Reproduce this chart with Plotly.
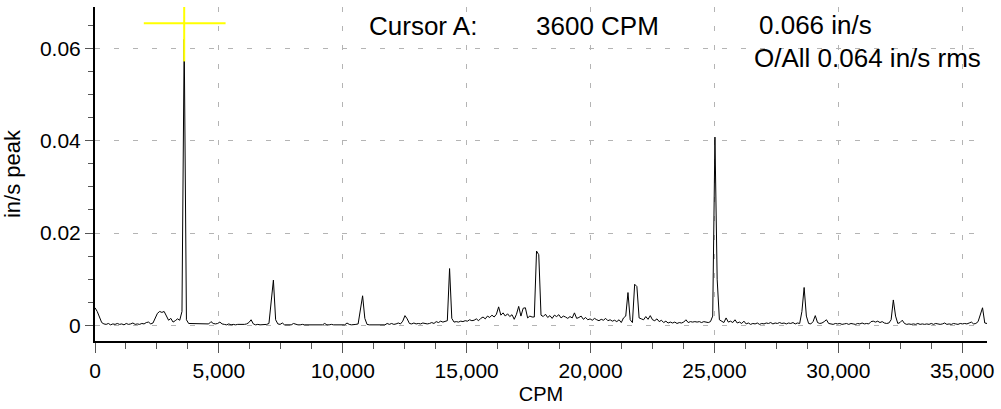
import plotly.graph_objects as go

# ---------------- data ----------------
cpm_start = 0
cpm_step = 90  # spectral line spacing (CPM)

# amplitude, in/s peak, one value per 90 CPM line (0 ... 36000 CPM)
amp_in_s = [
    0.0038, 0.0030, 0.0018, 0.0006, 0.0003, 0.0002, 0.0004, 0.0001, 0.0003, 0.0002,   # 0-810
    0.0004, 0.0002, 0.0003, 0.0001, 0.0004, 0.0002, 0.0003, 0.0005, 0.0002, 0.0003,   # 900-1710
    0.0002, 0.0004, 0.0003, 0.0006, 0.0007, 0.0003, 0.0005, 0.0016, 0.0026, 0.0030,   # 1800-2610
    0.0028, 0.0030, 0.0020, 0.0011, 0.0015, 0.0007, 0.0010, 0.0014, 0.0011, 0.0030,   # 2700-3510
    0.0620, 0.0012, 0.0004, 0.0004, 0.0003, 0.0004, 0.0003, 0.0004, 0.0004, 0.0003,   # 3600-4410
    0.0004, 0.0003, 0.0008, 0.0004, 0.0003, 0.0004, 0.0007, 0.0003, 0.0002, 0.0001,   # 4500-5310
    0.0003, 0.0001, 0.0002, 0.0001, 0.0002, 0.0002, 0.0001, 0.0002, 0.0003, 0.0006,   # 5400-6210
    0.0012, 0.0003, 0.0001, 0.0002, 0.0001, 0.0001, 0.0002, 0.0002, 0.0004, 0.0045,   # 6300-7110
    0.0098, 0.0012, 0.0003, 0.0002, 0.0005, 0.0001, 0.0001, 0.0002, 0.0001, 0.0004,   # 7200-8010
    0.0002, 0.0001, 0.0001, 0.0002, 0.0001, 0.0001, 0.0002, 0.0001, 0.0001, 0.0001,   # 8100-8910
    0.0001, 0.0002, 0.0001, 0.0004, 0.0001, 0.0001, 0.0002, 0.0001, 0.0001, 0.0001,   # 9000-9810
    0.0002, 0.0001, 0.0001, 0.0005, 0.0002, 0.0001, 0.0001, 0.0002, 0.0003, 0.0030,   # 9900-10710
    0.0064, 0.0015, 0.0002, 0.0001, 0.0001, 0.0002, 0.0001, 0.0001, 0.0001, 0.0002,   # 10800-11610
    0.0001, 0.0004, 0.0002, 0.0004, 0.0002, 0.0003, 0.0005, 0.0003, 0.0009, 0.0021,   # 11700-12510
    0.0014, 0.0004, 0.0003, 0.0005, 0.0003, 0.0004, 0.0003, 0.0005, 0.0004, 0.0003,   # 12600-13410
    0.0004, 0.0006, 0.0004, 0.0008, 0.0006, 0.0009, 0.0007, 0.0008, 0.0010, 0.0123,   # 13500-14310
    0.0015, 0.0007, 0.0008, 0.0007, 0.0009, 0.0008, 0.0010, 0.0009, 0.0012, 0.0010,   # 14400-15210
    0.0011, 0.0014, 0.0010, 0.0015, 0.0018, 0.0014, 0.0020, 0.0017, 0.0022, 0.0018,   # 15300-16110
    0.0024, 0.0040, 0.0022, 0.0027, 0.0020, 0.0025, 0.0019, 0.0023, 0.0013, 0.0024,   # 16200-17010
    0.0041, 0.0020, 0.0037, 0.0038, 0.0016, 0.0020, 0.0018, 0.0018, 0.0161, 0.0153,   # 17100-17910
    0.0022, 0.0019, 0.0024, 0.0017, 0.0021, 0.0015, 0.0022, 0.0019, 0.0023, 0.0016,   # 18000-18810
    0.0020, 0.0018, 0.0015, 0.0019, 0.0016, 0.0027, 0.0015, 0.0017, 0.0020, 0.0013,   # 18900-19710
    0.0017, 0.0012, 0.0014, 0.0011, 0.0015, 0.0012, 0.0010, 0.0013, 0.0011, 0.0015,   # 19800-20610
    0.0010, 0.0012, 0.0009, 0.0011, 0.0008, 0.0012, 0.0006, 0.0016, 0.0020, 0.0071,   # 20700-21510
    0.0012, 0.0006, 0.0089, 0.0084, 0.0016, 0.0014, 0.0012, 0.0019, 0.0013, 0.0021,   # 21600-22410
    0.0012, 0.0010, 0.0014, 0.0008, 0.0011, 0.0006, 0.0009, 0.0005, 0.0007, 0.0005,   # 22500-23310
    0.0007, 0.0004, 0.0006, 0.0005, 0.0007, 0.0012, 0.0006, 0.0008, 0.0007, 0.0008,   # 23400-24210
    0.0007, 0.0008, 0.0006, 0.0008, 0.0007, 0.0006, 0.0008, 0.0020, 0.0408, 0.0100,   # 24300-25110
    0.0012, 0.0008, 0.0006, 0.0016, 0.0007, 0.0009, 0.0006, 0.0012, 0.0005, 0.0007,   # 25200-26010
    0.0004, 0.0009, 0.0003, 0.0005, 0.0002, 0.0004, 0.0003, 0.0005, 0.0002, 0.0004,   # 26100-26910
    0.0003, 0.0005, 0.0004, 0.0006, 0.0003, 0.0005, 0.0004, 0.0006, 0.0004, 0.0005,   # 27000-27810
    0.0003, 0.0005, 0.0004, 0.0006, 0.0003, 0.0005, 0.0004, 0.0030, 0.0082, 0.0020,   # 27900-28710
    0.0004, 0.0003, 0.0008, 0.0021, 0.0006, 0.0004, 0.0005, 0.0008, 0.0012, 0.0004,   # 28800-29610
    0.0003, 0.0002, 0.0004, 0.0003, 0.0004, 0.0002, 0.0003, 0.0004, 0.0002, 0.0004,   # 29700-30510
    0.0003, 0.0002, 0.0004, 0.0003, 0.0005, 0.0003, 0.0004, 0.0003, 0.0008, 0.0009,   # 30600-31410
    0.0007, 0.0009, 0.0006, 0.0008, 0.0005, 0.0004, 0.0005, 0.0012, 0.0055, 0.0020,   # 31500-32310
    0.0004, 0.0006, 0.0011, 0.0004, 0.0002, 0.0003, 0.0002, 0.0003, 0.0002, 0.0004,   # 32400-33210
    0.0002, 0.0003, 0.0002, 0.0003, 0.0002, 0.0004, 0.0002, 0.0004, 0.0003, 0.0002,   # 33300-34110
    0.0003, 0.0005, 0.0002, 0.0003, 0.0002, 0.0004, 0.0003, 0.0002, 0.0004, 0.0003,   # 34200-35010
    0.0004, 0.0003, 0.0005, 0.0007, 0.0003, 0.0004, 0.0008, 0.0025, 0.0038, 0.0005,   # 35100-35910
    0.0004,                                                                            # 36000
]
cpm = [cpm_start + i * cpm_step for i in range(len(amp_in_s))]

x_tick_vals = [0, 5000, 10000, 15000, 20000, 25000, 30000, 35000]
y_tick_vals = [0, 0.02, 0.04, 0.06]

# cursor A
cursor_cpm = 3600
cursor_amp = 0.0655
cursor_h_span = [1970, 5270]
cursor_v_span = [0.0572, 0.0710]

cursor_label = "Cursor A:"
cursor_freq_text = "3600 CPM"
cursor_amp_text = "0.066 in/s"
overall_text = "O/All 0.064 in/s rms"

# ---------------- layout helpers ----------------
W, H = 1001, 409
L, R, T, B = 95, 11, 7, 61
PW, PH = W - L - R, H - T - B


def px(xp):
    return (xp - L) / PW


def py(yp):
    return (H - B - yp) / PH


FONT = "Arial, 'Liberation Sans', sans-serif"

fig = go.Figure()

fig.add_trace(go.Scatter(
    x=cpm, y=amp_in_s, mode="lines",
    line=dict(color="black", width=1),
    hoverinfo="skip", showlegend=False,
))

# cursor crosshair
fig.add_trace(go.Scatter(
    x=cursor_h_span, y=[cursor_amp, cursor_amp], mode="lines",
    line=dict(color="#ffff00", width=2), showlegend=False, hoverinfo="skip",
))
fig.add_trace(go.Scatter(
    x=[cursor_cpm, cursor_cpm], y=cursor_v_span, mode="lines",
    line=dict(color="#ffff00", width=2), showlegend=False, hoverinfo="skip",
))

grid = dict(showgrid=True, gridcolor="#b4b4b4", gridwidth=1, griddash="5px,14px")

fig.update_xaxes(
    range=[0, 36000],
    tickvals=x_tick_vals, tickformat=",d",
    ticks="outside", ticklen=10, tickcolor="#555555", tickwidth=1,
    minor=dict(dtick=1250, tick0=0, ticks="outside", ticklen=6, tickcolor="#555555", tickwidth=1, showgrid=False),
    showline=True, linecolor="black", linewidth=2,
    zeroline=False,
    tickfont=dict(family=FONT, size=21, color="black"),
    title=dict(text="CPM", font=dict(family=FONT, size=20, color="black"), standoff=6),
    **grid,
)
fig.update_yaxes(
    range=[-0.0034, 0.069],
    tickvals=y_tick_vals,
    ticks="outside", ticklen=8, tickcolor="#555555", tickwidth=1,
    minor=dict(dtick=0.005, tick0=0, ticks="outside", ticklen=5, tickcolor="#555555", tickwidth=1, showgrid=False),
    showline=True, linecolor="black", linewidth=2,
    zeroline=False,
    tickfont=dict(family=FONT, size=21, color="black"),
    title=dict(text="in/s peak", font=dict(family=FONT, size=22, color="black"), standoff=16),
    **grid,
)

ann_font = dict(family=FONT, size=26, color="black")
annotations = [
    dict(text=cursor_label, x=px(368), y=py(26), xanchor="left"),
    dict(text=cursor_freq_text, x=px(535), y=py(26), xanchor="left"),
    dict(text=cursor_amp_text, x=px(759), y=py(25), xanchor="left"),
    dict(text=overall_text, x=px(986), y=py(59), xanchor="right"),
]
for a in annotations:
    fig.add_annotation(xref="paper", yref="paper", yanchor="middle", showarrow=False,
                       font=ann_font, **a)

fig.update_layout(
    width=W, height=H,
    margin=dict(l=L, r=R, t=T, b=B),
    paper_bgcolor="white", plot_bgcolor="white",
    showlegend=False,
)

fig.write_html("out.html")
